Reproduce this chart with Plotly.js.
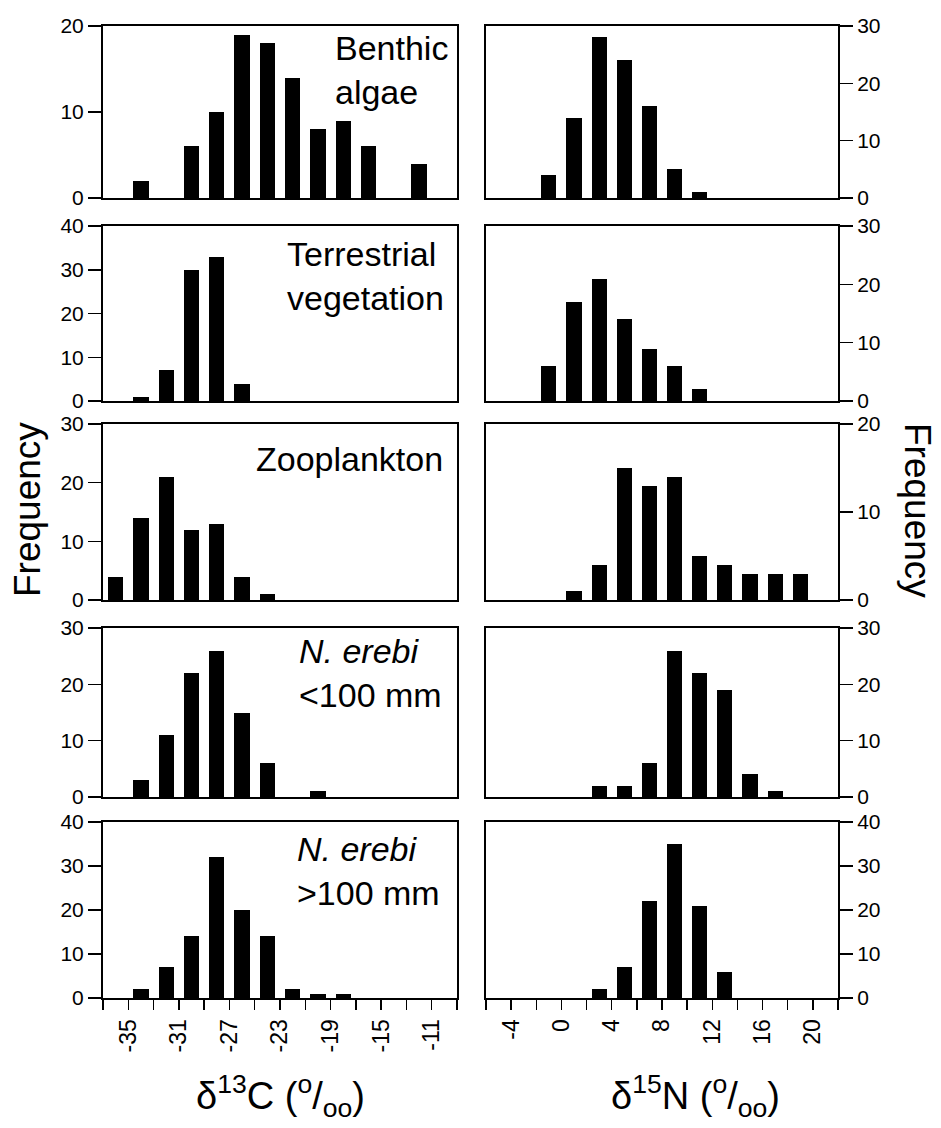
<!DOCTYPE html>
<html>
<head>
<meta charset="utf-8">
<script src="https://cdn.plot.ly/plotly-3.0.1.min.js"></script>
<style>html,body{margin:0;padding:0;background:#fff;}#chart{width:941px;height:1128px;}</style>
</head>
<body>
<div id="chart"></div>
<script>
// Bin centres
const c13Bins = [-36, -34, -32, -30, -28, -26, -24, -22, -20, -18, -16, -14, -12, -10];
const n15Bins = [-5, -3, -1, 1, 3, 5, 7, 9, 11, 13, 15, 17, 19, 21];

// δ13C frequencies
const benthicC     = [0, 2, 0, 6, 10, 19, 18, 14, 8, 9, 6, 0, 4, 0];
const terrestrialC = [0, 1, 7, 30, 33, 4, 0, 0, 0, 0, 0, 0, 0, 0];
const zooplanktonC = [4, 14, 21, 12, 13, 4, 1, 0, 0, 0, 0, 0, 0, 0];
const smallErebiC  = [0, 3, 11, 22, 26, 15, 6, 0, 1, 0, 0, 0, 0, 0];
const largeErebiC  = [0, 2, 7, 14, 32, 20, 14, 2, 1, 1, 0, 0, 0, 0];

// δ15N frequencies
const benthicN     = [0, 0, 4, 14, 28, 24, 16, 5, 1, 0, 0, 0, 0, 0];
const terrestrialN = [0, 0, 6, 17, 21, 14, 9, 6, 2, 0, 0, 0, 0, 0];
const zooplanktonN = [0, 0, 0, 1, 4, 15, 13, 14, 5, 4, 3, 3, 3, 0];
const smallErebiN  = [0, 0, 0, 0, 2, 2, 6, 26, 22, 19, 4, 1, 0, 0];
const largeErebiN  = [0, 0, 0, 0, 2, 7, 22, 35, 21, 6, 0, 0, 0, 0];

// Axis maxima per row (left, right)
const leftYMax  = [20, 40, 30, 30, 40];
const rightYMax = [30, 30, 20, 30, 40];

// Panel labels
const panelLabels = [
  "Benthic<br>algae",
  "Terrestrial<br>vegetation",
  "Zooplankton",
  "<i>N. erebi</i><br><100 mm",
  "<i>N. erebi</i><br>>100 mm"
];

// Tick positions / labels for bottom x axes
const c13TickVals   = [-35, -31, -27, -23, -19, -15, -11];
const c13TickText   = ["-35", "-31", "-27", "-23", "-19", "-15", "-11"];
const c13MinorTicks = [-37, -33, -29, -25, -21, -17, -13, -9];
const n15TickVals   = [-4, 0, 4, 8, 12, 16, 20];
const n15TickText   = ["-4", "0", "4", "8", "12", "16", "20"];
const n15MinorTicks = [-6, -2, 2, 6, 10, 14, 18, 22];

const leftSeries  = [benthicC, terrestrialC, zooplanktonC, smallErebiC, largeErebiC];
const rightSeries = [benthicN, terrestrialN, zooplanktonN, smallErebiN, largeErebiN];

// Layout geometry (pixels)
const W = 941, H = 1128;
const colX = [[103, 457], [486, 838]];
const rowY = [[26, 198], [226, 401], [424, 600], [628, 797], [822, 998]];
const labelPos = [[333, 27], [285, 233], [254, 438], [297, 630], [295, 828]];

const FONT = '"Liberation Sans", Arial, Helvetica, sans-serif';

const traces = [];
const layout = {
  width: W, height: H,
  margin: {l: 0, r: 0, t: 0, b: 0},
  paper_bgcolor: "#fff", plot_bgcolor: "#fff",
  showlegend: false,
  font: {family: FONT, size: 21, color: "#000"},
  bargap: 0,
  annotations: []
};

for (let r = 0; r < 5; r++) {
  for (let c = 0; c < 2; c++) {
    const idx = r * 2 + c + 1;
    const xa = idx === 1 ? "x" : "x" + idx;
    const ya = idx === 1 ? "y" : "y" + idx;
    traces.push({
      type: "bar",
      x: c === 0 ? c13Bins : n15Bins,
      y: c === 0 ? leftSeries[r] : rightSeries[r],
      width: 1.2,
      marker: {color: "#000", line: {width: 0}},
      xaxis: xa, yaxis: ya,
      hoverinfo: "x+y"
    });
    const bottom = r === 4;
    const xKey = idx === 1 ? "xaxis" : "xaxis" + idx;
    const yKey = idx === 1 ? "yaxis" : "yaxis" + idx;
    const xa_ = {
      domain: [colX[c][0] / W, colX[c][1] / W],
      range: c === 0 ? [-37, -9] : [-6, 22],
      anchor: ya,
      showline: true, mirror: true, linecolor: "#000", linewidth: 2,
      showgrid: false, zeroline: false,
      showticklabels: bottom,
      fixedrange: true
    };
    if (bottom) {
      Object.assign(xa_, {
        ticks: "outside", ticklen: 10, tickwidth: 1.5, tickcolor: "#000",
        tickmode: "array",
        tickvals: c === 0 ? c13TickVals : n15TickVals,
        ticktext: c === 0 ? c13TickText : n15TickText,
        tickangle: -90,
        tickfont: {family: FONT, size: 23, color: "#000"},
        minor: {
          tickmode: "array",
          tickvals: c === 0 ? c13MinorTicks : n15MinorTicks,
          ticks: "outside", ticklen: 10, tickwidth: 1.5, tickcolor: "#000",
          showgrid: false
        }
      });
    } else {
      xa_.ticks = "";
      xa_.tickmode = "array";
      xa_.tickvals = [];
    }
    layout[xKey] = xa_;
    layout[yKey] = {
      domain: [1 - rowY[r][1] / H, 1 - rowY[r][0] / H],
      range: [0, c === 0 ? leftYMax[r] : rightYMax[r]],
      anchor: xa,
      side: c === 0 ? "left" : "right",
      dtick: 10, tick0: 0,
      showline: true, mirror: true, linecolor: "#000", linewidth: 2,
      showgrid: false, zeroline: false,
      ticks: "outside", ticklen: 13, tickwidth: 1.5, tickcolor: "#000",
      tickfont: {family: FONT, size: 21, color: "#000"},
      fixedrange: true
    };
  }
  layout.annotations.push({
    xref: "paper", yref: "paper",
    x: labelPos[r][0] / W, y: 1 - labelPos[r][1] / H,
    xanchor: "left", yanchor: "top", align: "left",
    text: panelLabels[r], showarrow: false,
    font: {family: FONT, size: 34, color: "#000"}
  });
}

// Axis titles as annotations
layout.annotations.push(
  {xref: "paper", yref: "paper", x: 280 / W, y: 1 - 1096 / H, xanchor: "center", yanchor: "middle",
   text: "δ<sup>13</sup>C (<sup>o</sup>/<sub>oo</sub>)", showarrow: false,
   font: {family: FONT, size: 38, color: "#000"}},
  {xref: "paper", yref: "paper", x: 695 / W, y: 1 - 1096 / H, xanchor: "center", yanchor: "middle",
   text: "δ<sup>15</sup>N (<sup>o</sup>/<sub>oo</sub>)", showarrow: false,
   font: {family: FONT, size: 38, color: "#000"}},
  {xref: "paper", yref: "paper", x: 27 / W, y: 1 - 510 / H, xanchor: "center", yanchor: "middle",
   text: "Frequency", textangle: -90, showarrow: false,
   font: {family: FONT, size: 37, color: "#000"}},
  {xref: "paper", yref: "paper", x: 918 / W, y: 1 - 510 / H, xanchor: "center", yanchor: "middle",
   text: "Frequency", textangle: 90, showarrow: false,
   font: {family: FONT, size: 37, color: "#000"}}
);

Plotly.newPlot("chart", traces, layout, {displayModeBar: false, staticPlot: true});
</script>
</body>
</html>
